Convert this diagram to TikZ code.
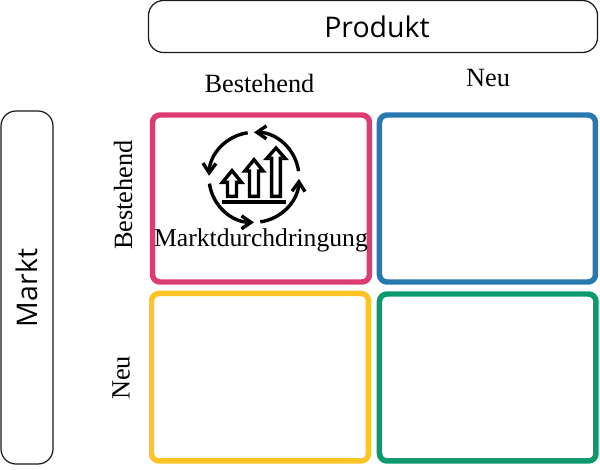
\documentclass[tikz,border=0pt]{standalone}
\usepackage{fontspec}
\setmainfont{Liberation Serif}
\newfontfamily\headfont{Open Sans}
\usetikzlibrary{arrows.meta}
\definecolor{cellpink}{HTML}{DC3B73}
\definecolor{cellblue}{HTML}{2A78B0}
\definecolor{cellyellow}{HTML}{FDC425}
\definecolor{cellgreen}{HTML}{0B9A6E}
\tikzset{
	cell/.style={draw=#1, line width=0.11cm, rounded corners=0.15cm, anchor=north west, inner sep=0pt, outer sep=0pt},
	headbox/.style={draw=black!90, line width=0.7pt, rounded corners=0.3cm, inner sep=0pt, outer sep=0pt},
	headlabel/.style={inner sep=0pt, font=\headfont\fontsize{16.2}{18}\selectfont},
	axislabel/.style={inner sep=0pt, font=\fontsize{15}{17}\selectfont},
	iconline/.style={line width=0.068cm, black}
}

\begin{document}
\begin{tikzpicture}[x=0.02cm, y=-0.02cm]
	\useasboundingbox (0,0) rectangle (600,470);
	% header boxes
	\node[headbox, minimum width=449*0.02cm, minimum height=52*0.02cm](produkt) at (373,26.5){};
	\node[headlabel](produktlabel) at (377,27){Produkt};
	\node[headbox, minimum width=52*0.02cm, minimum height=353*0.02cm](markt) at (27,287.5){};
	\node[headlabel, rotate=90](marktlabel) at (27,288){Markt};
	% the four cells
	\node[cell=cellpink, minimum width=217*0.02cm, minimum height=167*0.02cm](cellpk) at (152.5,115){};
	\node[cell=cellblue, minimum width=216*0.02cm, minimum height=167*0.02cm](cellbk) at (379.5,115){};
	\node[cell=cellyellow, minimum width=217*0.02cm, minimum height=167.5*0.02cm](cellyl) at (151.5,293.5){};
	\node[cell=cellgreen, minimum width=216.5*0.02cm, minimum height=167*0.02cm](cellgr) at (379.5,294){};
	% axis labels
	\node[axislabel](prodalt) at (259.5,83){Bestehend};
	\node[axislabel](prodneu) at (488,78){Neu};
	\node[axislabel, rotate=90](marktalt) at (123,195){Bestehend};
	\node[axislabel, rotate=90](marktneu) at (121,378){Neu};
	\node[inner sep=0pt, font=\fontsize{14.6}{17}\selectfont](penetration) at (261,240){Marktdurchdringung};
	% icon, in coordinates of the crop
	\begin{scope}[shift={(200,125)}, x=0.02cm/3, y=-0.02cm/3, iconline]
		\foreach \start/\stop in {8/90, 98/178, 188/270, 278/358}
			\draw[-{Straight Barb[length=0.19cm, width=0.26cm, line width=0.068cm]}] (162,157) ++(-\start:135) arc[start angle=-\start, end angle=-\stop, radius=135];
		\foreach \mid/\half/\wide/\tip/\wing in {96/13.5/28.5/137/172, 162/13.5/27.5/104/138, 228/13/27.5/69/100}
			\draw[line join=miter] (\mid-\half,214) -- (\mid-\half,\wing) -- (\mid-\wide,\wing) -- (\mid,\tip) -- (\mid+\wide,\wing) -- (\mid+\half,\wing) -- (\mid+\half,214) -- cycle;
		\draw[line width=0.075cm] (65,232) -- (258,232);
	\end{scope}
\end{tikzpicture}
\end{document}
